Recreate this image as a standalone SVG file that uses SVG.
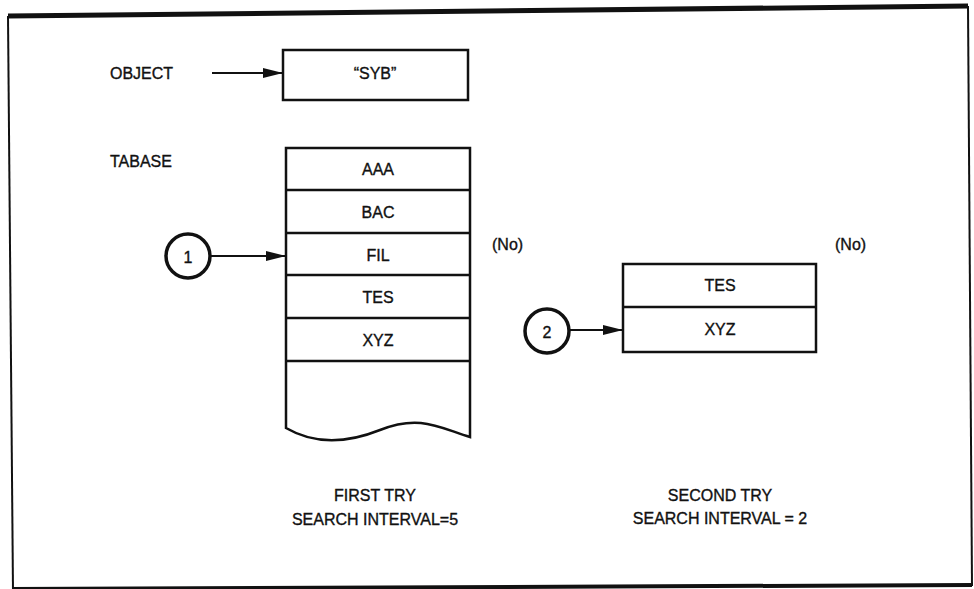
<svg xmlns="http://www.w3.org/2000/svg" width="974" height="589" viewBox="0 0 974 589">
<defs>
<style>
.t{font-family:"Liberation Sans",Arial,sans-serif;font-size:16px;fill:#111;stroke:#111;stroke-width:0.35;text-anchor:middle;dominant-baseline:central}
.tl{font-family:"Liberation Sans",Arial,sans-serif;font-size:16px;fill:#111;stroke:#111;stroke-width:0.35;dominant-baseline:central}
.box{fill:#fff;stroke:#111;stroke-width:2.5}
.ln{fill:none;stroke:#111;stroke-width:2.5}
.circ{fill:#fff;stroke:#111;stroke-width:3.5}
.arr{fill:none;stroke:#111;stroke-width:2;marker-end:url(#ah)}
</style>
<marker id="ah" viewBox="0 0 20 10" refX="20" refY="5" markerWidth="20" markerHeight="10" markerUnits="userSpaceOnUse" orient="auto">
<path d="M0,0 L20,5 L0,10 Z" fill="#111"/>
</marker>
</defs>
<rect width="974" height="589" fill="#fff"/>
<g id="frame">
<path d="M8,16 L968,6" stroke="#111" stroke-width="5" fill="none"/>
<path d="M8,16 L13,592" stroke="#111" stroke-width="2" fill="none"/>
<path d="M968,6 L972,586" stroke="#111" stroke-width="2" fill="none"/>
<path d="M13,589 L972,585" stroke="#111" stroke-width="4" fill="none"/>
</g>
<g id="object-label"><text class="tl" x="110" y="73">OBJECT</text></g>
<g id="syb"><rect class="box" x="283" y="50" width="185" height="50"/><text class="t" x="375" y="73">“SYB”</text></g>
<g id="tabase-label"><text class="tl" x="110" y="161">TABASE</text></g>
<g id="table1">
<path class="box" d="M286,148 L470,148 L470,437 C440,428 420,414 380,430 C340,446 310,442 286,428 Z"/>
<path class="ln" d="M286,190 H470 M286,233 H470 M286,275 H470 M286,318 H470 M286,361 H470"/>
<text class="t" x="378" y="169">AAA</text>
<text class="t" x="378" y="212">BAC</text>
<text class="t" x="378" y="255">FIL</text>
<text class="t" x="378" y="297">TES</text>
<text class="t" x="378" y="340">XYZ</text>
</g>
<g id="no1"><text class="tl" x="492" y="244">(No)</text></g>
<g id="c1"><circle class="circ" cx="188" cy="256" r="22"/><text class="t" x="188" y="257">1</text></g>
<g id="table2">
<rect class="box" x="623" y="264" width="193" height="88"/>
<path class="ln" d="M623,307 H816"/>
<text class="t" x="720" y="285">TES</text>
<text class="t" x="720" y="329">XYZ</text>
</g>
<g id="no2"><text class="tl" x="835" y="244">(No)</text></g>
<g id="c2"><circle class="circ" cx="547" cy="331" r="22"/><text class="t" x="547" y="332">2</text></g>
<g id="caption1"><text class="t" x="375" y="495">FIRST TRY</text><text class="t" x="375" y="519">SEARCH INTERVAL=5</text></g>
<g id="caption2"><text class="t" x="720" y="495">SECOND TRY</text><text class="t" x="720" y="518">SEARCH INTERVAL = 2</text></g>
<g id="connectors">
<line class="arr" x1="212" y1="73" x2="283" y2="73"/>
<line class="arr" x1="210" y1="256" x2="286" y2="256"/>
<line class="arr" x1="569" y1="330" x2="623" y2="330"/>
</g>
</svg>
